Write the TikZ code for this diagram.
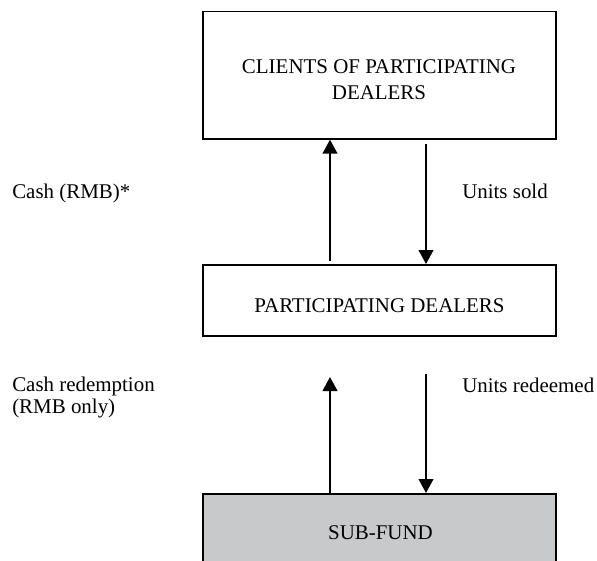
\documentclass[tikz,border=0pt]{standalone}
\usepackage{fontspec}
\setmainfont{Liberation Serif}
\usetikzlibrary{arrows.meta,calc}
\definecolor{fundgrey}{RGB}{200,201,203}

\begin{document}
\begin{tikzpicture}[x=0.75pt,y=0.75pt,yscale=-1,xscale=1,
    box/.style={draw, line width=1.2pt, inner sep=0pt, minimum width=264.75pt, anchor=north},
    txt/.style={inner sep=0pt, font=\fontsize{15.7}{20}\selectfont},
    flow/.style={line width=1.5pt, -{Triangle[width=11pt,length=10.5pt]}}]
    %set diagram frame: 597 x 561
    \useasboundingbox (0,0) rectangle (597,561);
    \clip (0,0) rectangle (597,561);

    % Boxes
    \node [box, minimum height=95.5pt] (clients) at (379.5,10.7) {};
    \node [box, minimum height=53.6pt] (dealers) at (379.5,264) {};
    \node [box, minimum height=60pt, fill=fundgrey] (subfund) at (379.5,493) {};

    % Box texts
    \node [txt, align=center] (clientstext) at (379,79.7) {CLIENTS OF PARTICIPATING\\DEALERS};
    \node [txt] (dealerstext) at (379.5,306) {PARTICIPATING DEALERS};
    \node [txt] (subfundtext) at (380.5,533) {SUB-FUND};

    % Free ends of the lower arrows
    \coordinate (cashend) at (330,377);
    \coordinate (unitsstart) at (426,374);

    % Arrows
    \draw [flow] ($(dealers.north)+(-49.5,-3)$) -- ($(clients.south)+(-49.5,0)$);
    \draw [flow] ($(clients.south)+(46.5,4)$) -- ($(dealers.north)+(46.5,0)$);
    \draw [flow] ($(subfund.north)+(-49.5,0)$) -- (cashend);
    \draw [flow] (unitsstart) -- ($(subfund.north)+(46.5,0)$);

    % Labels
    \node [txt, anchor=base west] (cashlabel) at (12,198) {Cash (RMB)*};
    \node [txt, anchor=base west] (soldlabel) at (462,198) {Units sold};
    \node [txt, anchor=north west, align=left, font=\fontsize{15.7}{16.5}\selectfont] (redemptionlabel) at (12,377) {Cash redemption\\(RMB only)};
    \node [txt, anchor=base west] (redeemedlabel) at (462,392) {Units redeemed};
\end{tikzpicture}
\end{document}
